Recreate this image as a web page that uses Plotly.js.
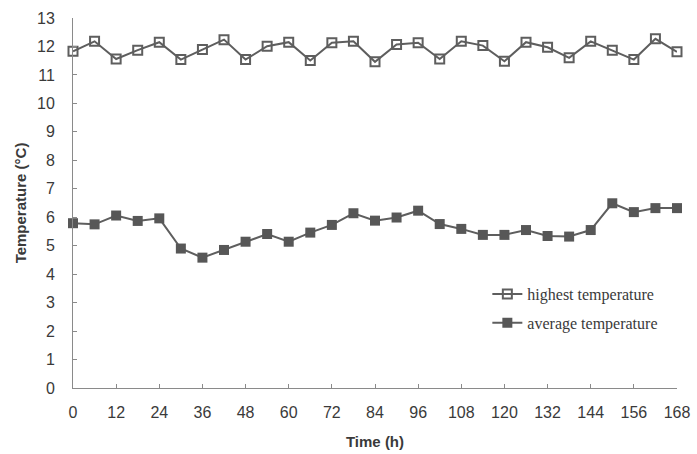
<!DOCTYPE html>
<html>
<head>
<meta charset="utf-8">
<script src="https://cdn.plot.ly/plotly-3.0.1.min.js"></script>
<style>
html,body{margin:0;padding:0;background:#fff;}
#chart{width:697px;height:454px;}
</style>
</head>
<body>
<div id="chart"></div>
<script>
const timeHours = [0,6,12,18,24,30,36,42,48,54,60,66,72,78,84,90,96,102,108,114,120,126,132,138,144,150,156,162,168];
const highestTemp = [11.83,12.18,11.56,11.87,12.15,11.54,11.89,12.24,11.54,12.01,12.15,11.51,12.13,12.18,11.46,12.07,12.13,11.56,12.18,12.03,11.48,12.15,11.97,11.6,12.18,11.87,11.54,12.27,11.81];
const averageTemp = [5.79,5.75,6.06,5.87,5.96,4.90,4.58,4.85,5.14,5.41,5.14,5.46,5.73,6.14,5.88,5.99,6.23,5.76,5.59,5.38,5.38,5.55,5.34,5.32,5.55,6.49,6.18,6.32,6.32];
const xTicks = [0,12,24,36,48,60,72,84,96,108,120,132,144,156,168];
const yTicks = [0,1,2,3,4,5,6,7,8,9,10,11,12,13];
const seriesNames = ['highest temperature','average temperature'];

const lineColor = '#5e5e5e';
const traces = [
  {
    x: timeHours, y: highestTemp, name: seriesNames[0], legendgroup: 'a',
    type: 'scatter', mode: 'lines+markers',
    line: {color: lineColor, width: 2},
    marker: {symbol: 'square-open', size: 9, color: lineColor, line: {width: 2, color: lineColor}},
    cliponaxis: false
  },
  {
    x: timeHours, y: averageTemp, name: seriesNames[1], legendgroup: 'b',
    type: 'scatter', mode: 'lines+markers',
    line: {color: lineColor, width: 2},
    marker: {symbol: 'square', size: 10, color: '#575757'},
    cliponaxis: false
  }
];

const axisFont = {family: 'Liberation Sans, Arial, sans-serif', size: 16, color: '#3a3a3a'};
const titleFont = {family: 'Liberation Sans, Arial, sans-serif', size: 15, color: '#3a3a3a'};
const layout = {
  width: 697, height: 454,
  margin: {l: 73, r: 20, t: 18, b: 66},
  paper_bgcolor: '#ffffff', plot_bgcolor: '#ffffff',
  showlegend: true,
  legend: {
    x: 0.686, y: 0.30, xanchor: 'left', yanchor: 'top',
    font: {family: 'Liberation Serif, Times New Roman, serif', size: 16, color: '#3a3a3a'},
    bgcolor: 'rgba(0,0,0,0)', traceorder: 'grouped', tracegroupgap: 5
  },
  xaxis: {
    range: [0, 168], tickvals: xTicks, ticktext: xTicks.map(String),
    showgrid: false, zeroline: false, showline: true, linecolor: '#8a8a8a', linewidth: 1,
    ticks: 'inside', ticklen: 4, tickcolor: '#8a8a8a',
    tickfont: axisFont, ticklabelstandoff: 10,
    title: {text: '<b>Time (h)</b>', font: titleFont, standoff: 16}
  },
  yaxis: {
    range: [0, 13], tickvals: yTicks, ticktext: yTicks.map(String),
    showgrid: false, zeroline: false, showline: true, linecolor: '#8a8a8a', linewidth: 1,
    ticks: 'inside', ticklen: 4, tickcolor: '#8a8a8a',
    tickfont: axisFont, ticklabelstandoff: 14,
    title: {text: '<b>Temperature (°C)</b>', font: titleFont, standoff: 6}
  }
};

Plotly.newPlot('chart', traces, layout, {displayModeBar: false, staticPlot: true});
</script>
</body>
</html>
